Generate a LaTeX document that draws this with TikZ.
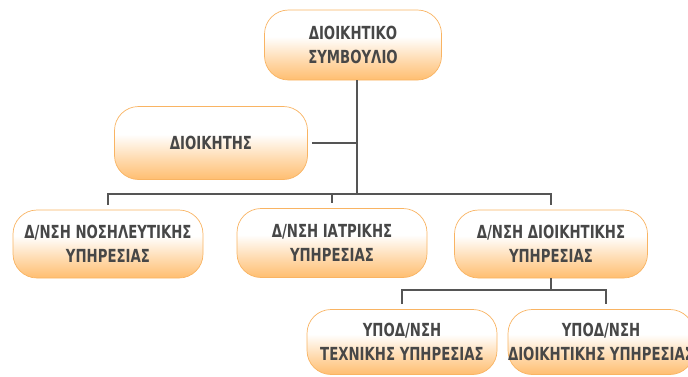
\documentclass[tikz,border=0pt]{standalone}
\usepackage{fontspec}
\newfontfamily\orgfont{DejaVu Sans Condensed}[FakeStretch=0.82]
\usetikzlibrary{calc}
\definecolor{boxorange}{HTML}{FFBE70}
\definecolor{boxedge}{HTML}{F9B463}
\definecolor{txtgray}{HTML}{474747}
\definecolor{linegray}{HTML}{555555}
\pgfdeclareverticalshading{orgfade}{100bp}{color(0bp)=(boxorange); color(25bp)=(boxorange); color(38bp)=(boxorange!60); color(56bp)=(white); color(100bp)=(white)}
\tikzset{
  orgbox/.style={rounded corners=24pt, shading=orgfade,
    draw=boxedge, line width=0.7pt, text=txtgray, align=center,
    font=\orgfont\bfseries\fontsize{18}{24}\selectfont, inner sep=0pt},
  link/.style={draw=linegray, line width=1.8pt}
}
\begin{document}
\begin{tikzpicture}[x=1pt,y=-1pt]
  \useasboundingbox (0,0) rectangle (688,376);
  % boxes
  \node[orgbox, minimum width=177pt, minimum height=70pt] (board) at (353,45) {ΔΙΟΙΚΗΤΙΚΟ\\ΣΥΜΒΟΥΛΙΟ};
  \node[orgbox, minimum width=193pt, minimum height=73pt] (director) at (211,143) {ΔΙΟΙΚΗΤΗΣ};
  \node[orgbox, minimum width=190pt, minimum height=68pt] (nursing) at (108,244) {Δ/ΝΣΗ ΝΟΣΗΛΕΥΤΙΚΗΣ\\ΥΠΗΡΕΣΙΑΣ};
  \node[orgbox, minimum width=190pt, minimum height=69pt] (medical) at (332,243) {Δ/ΝΣΗ ΙΑΤΡΙΚΗΣ\\ΥΠΗΡΕΣΙΑΣ};
  \node[orgbox, minimum width=193pt, minimum height=68pt] (admin) at (551,244) {Δ/ΝΣΗ ΔΙΟΙΚΗΤΙΚΗΣ\\ΥΠΗΡΕΣΙΑΣ};
  \node[orgbox, minimum width=190pt, minimum height=65pt] (technical) at (402,342) {ΥΠΟΔ/ΝΣΗ\\ΤΕΧΝΙΚΗΣ ΥΠΗΡΕΣΙΑΣ};
  \node[orgbox, minimum width=186pt, minimum height=65pt] (adminsub) at (601,342) {ΥΠΟΔ/ΝΣΗ\\ΔΙΟΙΚΗΤΙΚΗΣ ΥΠΗΡΕΣΙΑΣ};
  % connectors
  \coordinate (bus) at (357,194);
  \coordinate (subbus) at (551,290);
  \draw[link] ([xshift=4pt]board.south) -- (bus);
  \draw[link] ([xshift=4pt]director.east) -- (director.east -| bus);
  \draw[link] ([yshift=5pt]nursing.north) |- (bus) -| ([yshift=5pt]admin.north);
  \draw[link] (medical.north |- bus) -- ([yshift=5pt]medical.north);
  \draw[link] (admin.south) -- (subbus);
  \draw[link] ([yshift=5pt]technical.north) |- (subbus) -| ([xshift=5pt,yshift=5pt]adminsub.north);
\end{tikzpicture}
\end{document}
